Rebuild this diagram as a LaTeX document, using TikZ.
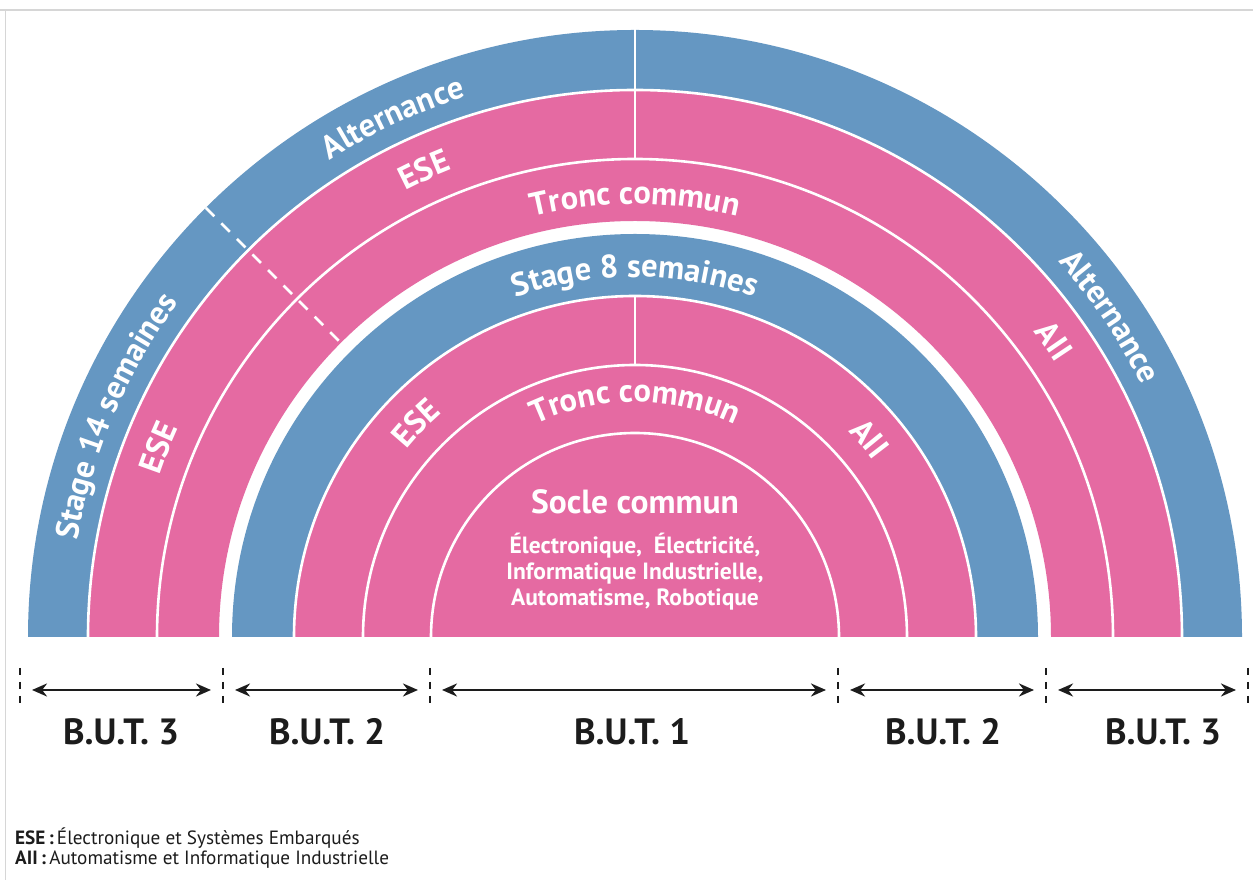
\documentclass[tikz,border=0pt]{standalone}
\usepackage{fontspec}
\setmainfont{PT Sans}
\usetikzlibrary{arrows.meta,calc,decorations.text}
\definecolor{bandblue}{RGB}{101,151,194}
\definecolor{bandpink}{RGB}{229,106,162}
\definecolor{framegray}{RGB}{214,214,214}
\definecolor{inkblack}{RGB}{28,28,28}
\newcommand{\ringfill}[3]{\fill[#1] ($(C)+(0:#2)$) arc[start angle=0,end angle=180,radius=#2] -- ($(C)+(180:#3)$) arc[start angle=180,end angle=0,radius=#3] -- cycle;}
\newcommand{\arclabel}[4]{% radius, angle, half span, text
  \path[decorate,decoration={text along path,text align=center,text color=white,
    text={|\fontsize{32.5}{32.5}\selectfont\bfseries|#4}}]
    ($(C)+({#2+#3}:#1)$) arc[start angle={#2+#3},end angle={#2-#3},radius=#1];}
\tikzset{
  sep/.style={draw=white,line width=2.6pt},
  tickline/.style={draw=inkblack,line width=2.6pt,dash pattern=on 7pt off 7pt},
  span/.style={draw=inkblack,line width=2.6pt,{Stealth[length=15pt,width=13pt]}-{Stealth[length=15pt,width=13pt]},shorten <=12pt,shorten >=12pt},
  butlbl/.style={text=inkblack,font=\fontsize{36.5}{36.5}\selectfont\bfseries,inner sep=0pt},
  legend/.style={text=inkblack,font=\fontsize{19.2}{22}\selectfont,anchor=west,inner sep=0pt}
}
\begin{document}
\begin{tikzpicture}[x=1pt,y=1pt]
\useasboundingbox (0,0) rectangle (1253,880);
\fill[white] (0,0) rectangle (1253,880);
% frame
\draw[framegray,line width=1.6pt] (0,870) -- (1253,870);
\draw[framegray,line width=1.6pt] (5.5,870) -- (5.5,0);
\coordinate (C) at (635,243);
% rings
\ringfill{bandblue}{607pt}{547pt}
\ringfill{bandpink}{547pt}{416pt}
\ringfill{bandblue}{403pt}{341pt}
\fill[bandpink] ($(C)+(0:341pt)$) arc[start angle=0,end angle=180,radius=341pt] -- cycle;
% separators
\foreach \r in {547,478,341,272,204}{
  \draw[sep] ($(C)+(0:\r pt)$) arc[start angle=0,end angle=180,radius=\r pt];
}
\draw[sep] ($(C)+(90:608pt)$) -- ($(C)+(90:478pt)$);
\draw[sep] ($(C)+(90:341pt)$) -- ($(C)+(90:272pt)$);
\draw[sep,dash pattern=on 12pt off 10pt] ($(C)+(135:607pt)$) -- ($(C)+(135:416pt)$);
% curved labels
\arclabel{566pt}{115}{25}{Alternance}
\arclabel{502pt}{114.3}{25}{ESE}
\arclabel{433pt}{90}{30}{Tronc commun}
\arclabel{566pt}{157}{30}{Stage 14 semaines}
\arclabel{502pt}{158.3}{25}{ESE}
\arclabel{502pt}{35.3}{25}{AII}
\arclabel{566pt}{34}{25}{Alternance}
\arclabel{360pt}{90}{35}{Stage 8 semaines}
\arclabel{296pt}{135.7}{30}{ESE}
\arclabel{296pt}{40.3}{30}{AII}
\arclabel{235pt}{90}{45}{Tronc commun}
% socle
\node[text=white,font=\fontsize{33.5}{33.5}\selectfont\bfseries,inner sep=0pt] (socle) at (635,378) {Socle commun};
\node[text=white,font=\fontsize{23.5}{26}\selectfont\bfseries,align=center,inner sep=0pt] (soclesub) at (635,308)
  {Électronique,\ \ Électricité,\\Informatique Industrielle,\\Automatisme, Robotique};
% bottom spans
\foreach \i/\x in {0/20,1/223,2/430,3/838,4/1046,5/1248}{
  \coordinate (t\i) at (\x,190);
  \draw[tickline] (\x,212) -- (\x,174);
}
\draw[span] (t0) -- (t1);
\draw[span] (t1) -- (t2);
\draw[span] (t2) -- (t3);
\draw[span] (t3) -- (t4);
\draw[span] (t4) -- (t5);
\node[butlbl] (b3l) at (121,148) {B.U.T. 3};
\node[butlbl] (b2l) at (327,148) {B.U.T. 2};
\node[butlbl] (b1) at (632,148) {B.U.T. 1};
\node[butlbl] (b2r) at (943,148) {B.U.T. 2};
\node[butlbl] (b3r) at (1163,148) {B.U.T. 3};
% legend
\node[legend] (lg1) at (15,42) {\textbf{ESE\,:}\,Électronique et Systèmes Embarqués};
\node[legend] (lg2) at (15,20) {\textbf{AII\,:}\,Automatisme et Informatique Industrielle};
\end{tikzpicture}
\end{document}
